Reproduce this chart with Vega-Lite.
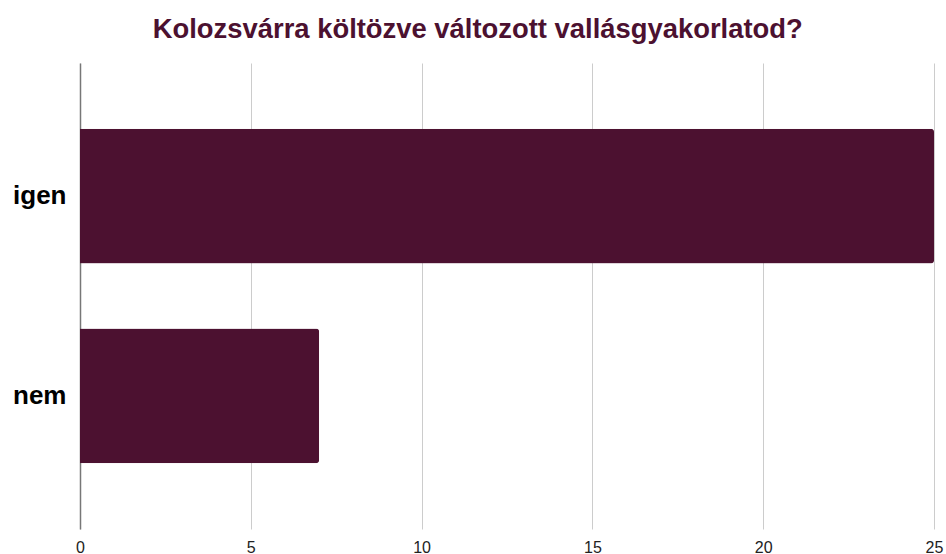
{
  "$schema": "https://vega.github.io/schema/vega-lite/v6.json",
  "width": 854,
  "height": 466,
  "autosize": {"type": "none"},
  "padding": {"left": 80, "top": 63, "right": 12, "bottom": 25},
  "background": "#ffffff",
  "title": {
    "text": "Kolozsvárra költözve változott vallásgyakorlatod?",
    "font": "Liberation Sans",
    "fontSize": 27.4,
    "fontWeight": "bold",
    "color": "#4c1130",
    "anchor": "middle",
    "frame": "bounds",
    "offset": 20
  },
  "data": {
    "values": [
      {"valasz": "igen", "darab": 25},
      {"valasz": "nem", "darab": 7}
    ]
  },
  "mark": {"type": "bar", "color": "#4c1130", "cornerRadiusEnd": 3},
  "encoding": {
    "y": {
      "field": "valasz",
      "type": "nominal",
      "sort": ["igen", "nem"],
      "scale": {"paddingInner": 0.325, "paddingOuter": 0.33},
      "axis": {
        "title": null,
        "ticks": false,
        "domain": true,
        "domainColor": "#777777",
        "domainWidth": 1.5,
        "labelFont": "Liberation Sans",
        "labelFontSize": 26,
        "labelFontWeight": "bold",
        "labelColor": "#000000",
        "labelPadding": 14,
        "grid": false
      }
    },
    "x": {
      "field": "darab",
      "type": "quantitative",
      "scale": {"domain": [0, 25], "nice": false},
      "axis": {
        "title": null,
        "values": [0, 5, 10, 15, 20, 25],
        "ticks": false,
        "domain": false,
        "grid": true,
        "gridColor": "#cccccc",
        "labelFont": "Liberation Sans",
        "labelFontSize": 16,
        "labelColor": "#222222",
        "labelPadding": 10,
        "labelFlush": false
      }
    }
  },
  "config": {"view": {"stroke": null}}
}
